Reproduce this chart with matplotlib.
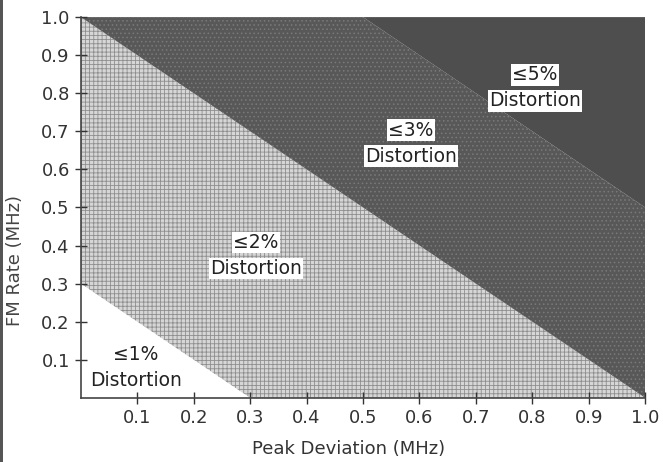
import numpy as np
import matplotlib
matplotlib.use('Agg')
import matplotlib.pyplot as plt

plt.rcParams['font.family'] = ['DejaVu Sans']
plt.rcParams['hatch.linewidth'] = 0.6

# region boundaries (peak deviation, FM rate) in MHz
b1_x = [0.0, 0.3]
b1_y = [0.3, 0.0]
b2_x = [0.0, 1.0]
b2_y = [1.0, 0.0]
b3_x = [0.5, 1.0]
b3_y = [1.0, 0.5]

ticks = [0.1, 0.2, 0.3, 0.4, 0.5, 0.6, 0.7, 0.8, 0.9, 1.0]
tick_labels = ['0.1', '0.2', '0.3', '0.4', '0.5', '0.6', '0.7', '0.8', '0.9', '1.0']

labels = ['≤1%', '≤2%', '≤3%', '≤5%']
label_x = [0.097, 0.31, 0.585, 0.805]
label_y = [0.075, 0.37, 0.665, 0.81]

fig = plt.figure(figsize=(6.63, 4.62), dpi=100)
ax = fig.add_axes([0.122, 0.139, 0.851, 0.824])

# <=1% region (white)
ax.fill([0.0] + b1_x, [0.0] + b1_y, facecolor='white', edgecolor='none')
# <=2% region
ax.fill(b1_x + b2_x[::-1], b1_y + b2_y[::-1], facecolor='#d6d6d6',
        edgecolor='#8e8e8e', hatch='++++', linewidth=0)
# <=3% region
ax.fill(b2_x + [1.0] + b3_x[::-1], b2_y + [0.5] + b3_y[::-1],
        facecolor='#585858', edgecolor='#7a7a7a', hatch='....', linewidth=0)
# <=5% region
ax.fill(b3_x + [1.0], b3_y + [1.0], facecolor='#4e4e4e', edgecolor='none')

for lab, lx, ly in zip(labels, label_x, label_y):
    box = dict(facecolor='white', edgecolor='none', pad=1.0)
    if lab == '≤1%':
        box = None
    ax.text(lx, ly + 0.038, lab, ha='center', va='center', fontsize=13.5,
            color='#222222', bbox=box)
    ax.text(lx, ly - 0.03, 'Distortion', ha='center', va='center', fontsize=13.5,
            color='#222222', bbox=box)

ax.set_xlim(0, 1.0)
ax.set_ylim(0, 1.0)
ax.set_xticks(ticks)
ax.set_xticklabels(tick_labels)
ax.set_yticks(ticks)
ax.set_yticklabels(tick_labels)
ax.tick_params(direction='inout', length=8, width=1.0, labelsize=13,
               colors='#333333', pad=4)
ax.spines['top'].set_visible(False)
ax.spines['right'].set_visible(False)
ax.spines['left'].set_color('#444444')
ax.spines['bottom'].set_color('#444444')
ax.spines['left'].set_linewidth(1.2)
ax.spines['bottom'].set_linewidth(1.2)
ax.set_xlabel('Peak Deviation (MHz)', fontsize=13, color='#333333')
ax.set_ylabel('FM Rate (MHz)', fontsize=13, color='#444444')
ax.xaxis.set_label_coords(0.475, -0.11)
ax.yaxis.set_label_coords(-0.1, 0.36)

# dark scan edge on the left
fig.patches.append(plt.Rectangle((0.0, 0.0), 0.005, 1.0, transform=fig.transFigure,
                                 facecolor='#555555', edgecolor='none'))

fig.savefig('out.png', dpi=100)
